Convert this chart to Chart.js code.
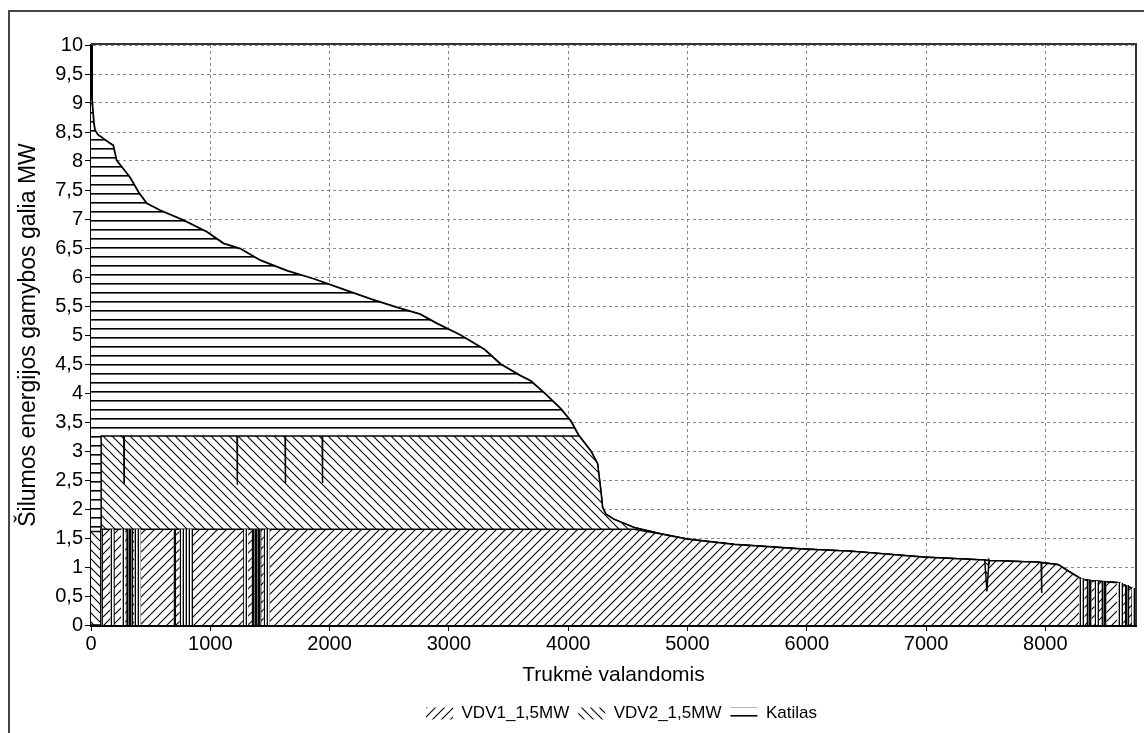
<!DOCTYPE html>
<html>
<head>
<meta charset="utf-8">
<script src="https://cdn.jsdelivr.net/npm/chart.js@4"></script>
<style>
    html, body { margin: 0; padding: 0; background: #fff; }
    #wrap { position: relative; width: 1144px; height: 733px; overflow: hidden; }
    #frame { position: absolute; left: 8px; top: 10px; width: 1300px; height: 900px;
             border-top: 2px solid #444; border-left: 2px solid #444; }
    #holder { position: absolute; left: 0; top: 0; width: 1144px; height: 733px; }
</style>
</head>
<body>
<div id="wrap">
    <div id="frame"></div>
    <div id="holder"><canvas id="durationChart"></canvas></div>
</div>
<script>
(function() {
    'use strict';

    // sorted duration curve: hour -> total heat load (MW)
    var hours = [0, 3, 8, 15, 25, 34, 60, 84, 85, 103, 150, 187, 215, 258, 327, 397, 467, 580,
        775, 971, 1111, 1251, 1419, 1643, 1867, 2100, 2350, 2560, 2760, 2900, 3098, 3300, 3434,
        3600, 3686, 3812, 3938, 4022, 4092, 4190, 4246, 4274, 4288, 4316, 4385, 4553, 4778,
        5002, 5394, 5953, 6373, 6988, 7485, 7530, 7950, 7990, 8108, 8192, 8304, 8388, 8612,
        8696, 8760];
    var load = [10, 9.6, 9.15, 8.9, 8.65, 8.53, 8.45, 8.42, 8.42, 8.39, 8.32, 8.27, 8.01, 7.9,
        7.72, 7.47, 7.27, 7.15, 6.98, 6.78, 6.58, 6.49, 6.29, 6.11, 5.97, 5.8, 5.62, 5.48, 5.36,
        5.2, 5.0, 4.75, 4.5, 4.3, 4.21, 3.98, 3.73, 3.52, 3.26, 3.0, 2.78, 2.31, 2.03, 1.91,
        1.82, 1.68, 1.57, 1.48, 1.39, 1.31, 1.27, 1.17, 1.12, 1.11, 1.08, 1.07, 1.04, 0.93,
        0.79, 0.76, 0.73, 0.66, 0.6];

    var vdv1Cap = 1.65;
    var vdv2Cap = 1.61;
    var vdv1StartHour = 85;

    // [hour, value] short outages shown as spikes
    var vdv2Dips = [[277, 2.45], [1226, 2.42], [1629, 2.45], [1940, 2.45]];
    // [hour, half width, value, level]
    var vdv1Dips = [[7510, 18, 0.58, 1.12], [7968, 3, 0.55, 1.07]];

    // [from, to, top] hour ranges where units switch often
    var denseBands = [[75, 100, 1.65], [295, 355, 1.65], [690, 715, 1.65], [1345, 1430, 1.65],
        [8345, 8390, 0.78], [8470, 8515, 0.75], [8665, 8705, 0.69]];
    var lightBands = [[160, 200, 1.65], [250, 290, 1.65], [360, 420, 1.65], [740, 855, 1.65],
        [1275, 1320, 1.65], [1445, 1500, 1.65], [8280, 8330, 0.8], [8410, 8450, 0.76],
        [8600, 8655, 0.73], [8720, 8760, 0.64]];

    var seriesLabels = ['VDV1_1,5MW', 'VDV2_1,5MW', 'Katilas'];
    var xTicks = [0, 1000, 2000, 3000, 4000, 5000, 6000, 7000, 8000];
    var yTicks = [0, 0.5, 1, 1.5, 2, 2.5, 3, 3.5, 4, 4.5, 5, 5.5, 6, 6.5, 7, 7.5, 8, 8.5, 9, 9.5, 10];
    var xMax = 8760;
    var yMax = 10;

    Chart.defaults.font.family = "'Liberation Sans', Arial, sans-serif";
    Chart.defaults.color = '#000';

    function makePattern(kind) {
        var s = 9;
        var c = document.createElement('canvas');
        var w = (kind === 'dense' || kind === 'light') ? 3 : s;
        c.width = w;
        c.height = s;
        var g = c.getContext('2d');
        g.fillStyle = '#fff';
        g.fillRect(0, 0, w, s);
        g.strokeStyle = '#000';
        g.lineWidth = 1.1;
        g.beginPath();
        if (kind === 'fwd') {
            g.moveTo(0, s); g.lineTo(s, 0);
            g.moveTo(-1, 1); g.lineTo(1, -1);
            g.moveTo(s - 1, s + 1); g.lineTo(s + 1, s - 1);
            g.stroke();
        } else if (kind === 'back') {
            g.moveTo(0, 0); g.lineTo(s, s);
            g.moveTo(-1, s - 1); g.lineTo(1, s + 1);
            g.moveTo(s - 1, -1); g.lineTo(s + 1, 1);
            g.stroke();
        } else if (kind === 'horiz') {
            g.fillStyle = '#000';
            g.fillRect(0, 4, s, 1);
            g.fillStyle = '#666';
            g.fillRect(0, 5, s, 1);
        } else if (kind === 'dense') {
            g.fillStyle = '#000';
            g.fillRect(0, 0, 2, s);
            g.fillStyle = '#777';
            g.fillRect(2, 0, 1, s);
        } else {
            g.fillStyle = '#000';
            g.fillRect(0, 0, 1, s);
            g.fillStyle = '#aaa';
            g.fillRect(2, 0, 1, s);
        }
        return g.createPattern(c, 'repeat');
    }

    function bandPoints(list) {
        var pts = [];
        list.forEach(function(b) {
            pts.push({x: b[0], y: b[2]}, {x: b[1], y: b[2]}, {x: b[1], y: null});
        });
        return pts;
    }

    function buildSeries() {
        var s0 = [], s1 = [], s2 = [];
        hours.forEach(function(h, i) {
            var v = load[i];
            var off = h < vdv1StartHour;
            s0.push({x: h, y: off ? 0 : Math.min(v, vdv1Cap)});
            s1.push({x: h, y: off ? vdv2Cap : Math.min(v, vdv1Cap + vdv2Cap)});
            s2.push({x: h, y: v});
        });
        vdv2Dips.forEach(function(d) {
            var top = vdv1Cap + vdv2Cap;
            s1.push({x: d[0] - 2, y: top}, {x: d[0], y: d[1]}, {x: d[0] + 2, y: top});
        });
        vdv1Dips.forEach(function(d) {
            s0.push({x: d[0] - d[1], y: d[3]}, {x: d[0], y: d[2]}, {x: d[0] + d[1], y: d[3]});
        });
        var byX = function(a, b) { return a.x - b.x; };
        s0.sort(byX);
        s1.sort(byX);
        return {s0: s0, s1: s1, s2: s2};
    }

    var plotFrame = {
        id: 'plotFrame',
        afterLayout: function(chart) {
            // legend sits a bit right of centre in the original
            if (chart.legend) {
                chart.legend.left += 46;
                chart.legend.right += 46;
            }
        },
        afterDraw: function(chart) {
            var a = chart.chartArea;
            var ctx = chart.ctx;
            ctx.save();
            ctx.strokeStyle = '#333';
            ctx.lineWidth = 2;
            ctx.beginPath();
            ctx.moveTo(a.left, a.top - 1);
            ctx.lineTo(a.right, a.top - 1);
            ctx.lineTo(a.right, a.bottom);
            ctx.stroke();
            ctx.restore();
        }
    };

    var ser = buildSeries();
    var CHART = document.getElementById('durationChart');

    var myChart = new Chart(CHART, {
        type: 'line',
        data: {
            datasets: [{
                label: '',
                data: bandPoints(denseBands),
                backgroundColor: makePattern('dense'),
                borderWidth: 0,
                pointRadius: 0,
                fill: 'origin',
                spanGaps: false
            }, {
                label: '',
                data: bandPoints(lightBands),
                backgroundColor: makePattern('light'),
                borderWidth: 0,
                pointRadius: 0,
                fill: 'origin',
                spanGaps: false
            }, {
                label: seriesLabels[0],
                data: ser.s0,
                backgroundColor: makePattern('fwd'),
                borderColor: '#000',
                borderWidth: 1.5,
                pointRadius: 0,
                fill: 'origin'
            }, {
                label: seriesLabels[1],
                data: ser.s1,
                backgroundColor: makePattern('back'),
                borderColor: '#000',
                borderWidth: 1.5,
                pointRadius: 0,
                fill: '-1'
            }, {
                label: seriesLabels[2],
                data: ser.s2,
                backgroundColor: makePattern('horiz'),
                borderColor: '#000',
                borderWidth: 1.8,
                pointRadius: 0,
                fill: '-1'
            }]
        },
        options: {
            responsive: true,
            maintainAspectRatio: false,
            animation: false,
            layout: {padding: {top: 45, left: 15, right: 8, bottom: 1}},
            elements: {line: {tension: 0}},
            plugins: {
                tooltip: {enabled: false},
                legend: {
                    position: 'bottom',
                    labels: {
                        boxWidth: 27,
                        boxHeight: 12,
                        padding: 9,
                        font: {size: 17},
                        filter: function(item) { return item.text !== ''; },
                        generateLabels: function(chart) {
                            var items = Chart.defaults.plugins.legend.labels.generateLabels(chart);
                            items.forEach(function(it) { it.lineWidth = 0; });
                            return items;
                        }
                    }
                }
            },
            scales: {
                x: {
                    type: 'linear',
                    min: 0,
                    max: xMax,
                    title: {display: true, text: 'Trukmė valandomis', font: {size: 21}, padding: {top: 0, bottom: 8}},
                    ticks: {
                        autoSkip: false,
                        font: {size: 20},
                        padding: 1,
                        maxRotation: 0,
                        callback: function(v) { return String(v); }
                    },
                    afterBuildTicks: function(scale) {
                        scale.ticks = xTicks.map(function(v) { return {value: v}; });
                    },
                    afterFit: function(scale) { scale.height = 71; },
                    grid: {color: '#888', tickColor: '#000', tickLength: 6, tickBorderDash: []},
                    border: {color: '#000', width: 3, dash: [3, 3]}
                },
                y: {
                    min: 0,
                    max: yMax,
                    title: {display: true, text: 'Šilumos energijos gamybos galia MW', font: {size: 23}, padding: {top: 0, bottom: 2}},
                    ticks: {
                        autoSkip: false,
                        font: {size: 20},
                        padding: 2,
                        callback: function(v) { return String(v).replace('.', ','); }
                    },
                    afterBuildTicks: function(scale) {
                        scale.ticks = yTicks.map(function(v) { return {value: v}; });
                    },
                    grid: {color: '#888', tickColor: '#000', tickLength: 6, tickBorderDash: []},
                    border: {color: '#000', width: 3, dash: [3, 3]},
                    afterFit: function(scale) { scale.width = 76; }
                }
            }
        },
        plugins: [plotFrame]
    });
}());
</script>
</body>
</html>
